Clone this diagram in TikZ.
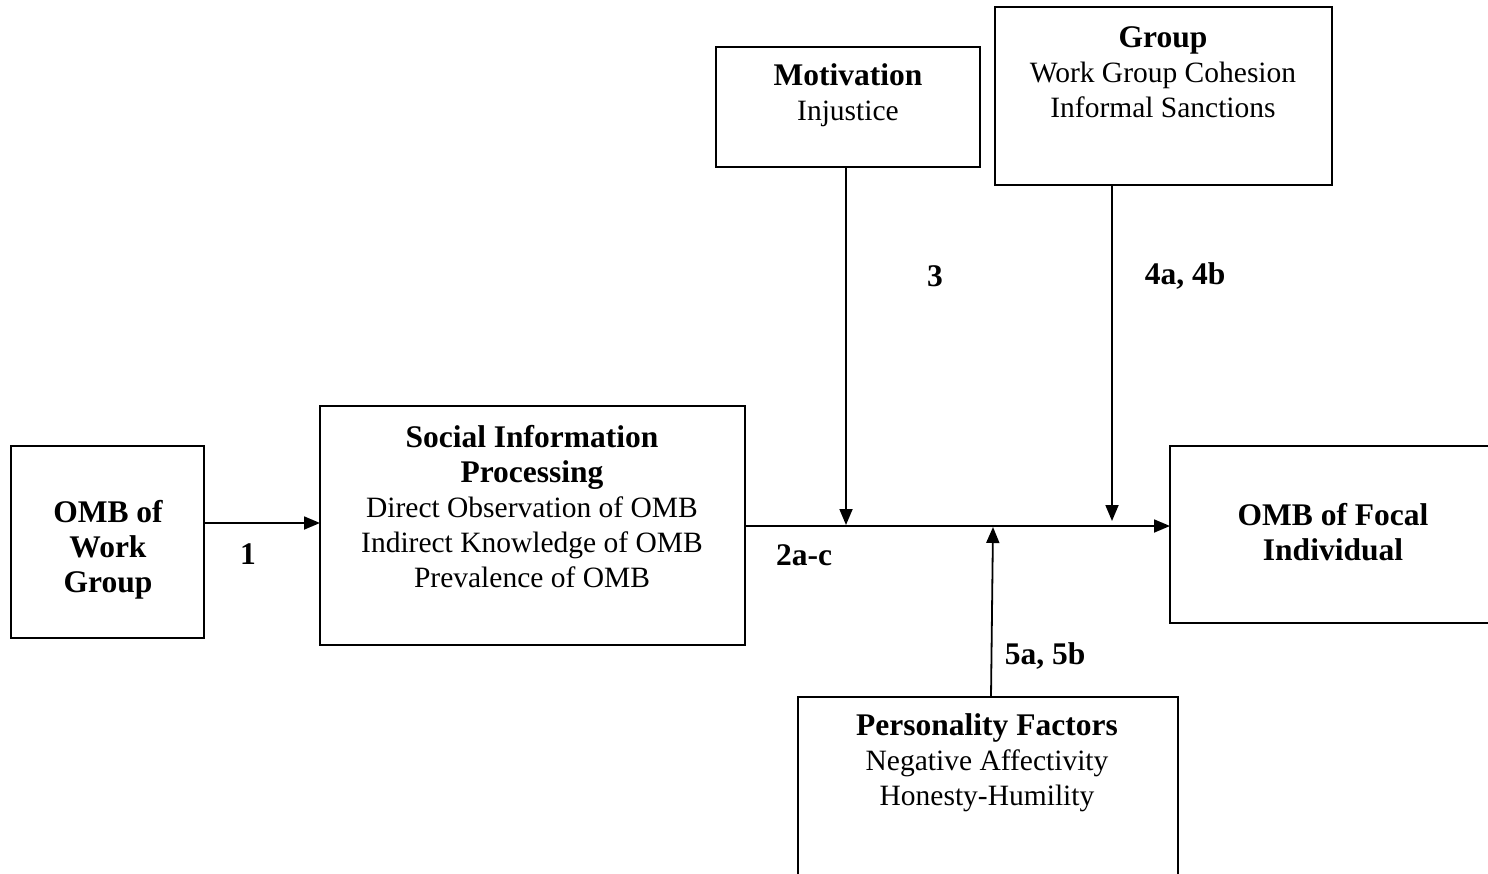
\documentclass[tikz,border=0pt]{standalone}
\usepackage{fontspec}
\setmainfont{Liberation Serif}
\usetikzlibrary{arrows.meta}
\newcommand{\hb}{\fontsize{31.5}{35}\selectfont\bfseries}
\tikzset{
  box/.style={draw, line width=1.8pt, rectangle, inner sep=0pt},
  txt/.style={align=center, inner sep=0pt, font=\fontsize{29.5}{35}\selectfont},
  lbl/.style={inner sep=0pt, font=\hb},
  conn/.style={line width=1.8pt, -{Triangle[length=16pt,width=13pt]}},
  plain/.style={line width=1.8pt}
}
\begin{document}
\begin{tikzpicture}[x=1pt,y=-1pt]
\useasboundingbox (0,0) rectangle (1488,874);
\clip (0,0) rectangle (1488,874);
% boxes
\draw[box] (11,446) rectangle (204,638);
\coordinate (wgE) at (204,523);
\node[txt] (wgt) at (108,550) {\hb OMB of\\\hb Work\\\hb Group};
\draw[box] (320,406) rectangle (745,645);
\coordinate (sipW) at (320,523);
\coordinate (sipE) at (745,526);
\node[txt] (sipt) at (532,507) {\hb Social Information\\\hb Processing\\Direct Observation of OMB\\Indirect Knowledge of OMB\\Prevalence of OMB};
\draw[box] (716,47) rectangle (980,167);
\node[txt] (mott) at (848,95) {\hb Motivation\\Injustice};
\draw[box] (995,7) rectangle (1332,185);
\node[txt] (grpt) at (1163,72) {\hb Group\\Work Group Cohesion\\Informal Sanctions};
\draw[box] (1170,446) rectangle (1500,623);
\coordinate (focW) at (1170,526);
\node[txt] (foct) at (1333,532) {\hb OMB of Focal\\\hb Individual};
\draw[box] (798,697) rectangle (1178,890);
\node[txt] (pert) at (987,763) {\hb Personality Factors\\Negative Affectivity\\Honesty-Humility};
% connector points
\coordinate (motS) at (846,167);
\coordinate (motT) at (846,525);
\coordinate (grpS) at (1112,185);
\coordinate (grpT) at (1112,521);
\coordinate (perN) at (991,697);
\coordinate (perT) at (993,527);
% connectors
\draw[conn] (wgE) -- (sipW);
\draw[conn] (sipE) -- (focW);
\draw[conn] (motS) -- (motT);
\draw[conn] (grpS) -- (grpT);
\draw[conn] (perN) -- (perT);
% labels
\node[lbl] (l1) at (248,554) {1};
\node[lbl] (l2) at (804,555) {2a-c};
\node[lbl] (l3) at (935,276) {3};
\node[lbl] (l4) at (1185,276) {4a, 4b};
\node[lbl] (l5) at (1045,656) {5a, 5b};
\end{tikzpicture}
\end{document}
